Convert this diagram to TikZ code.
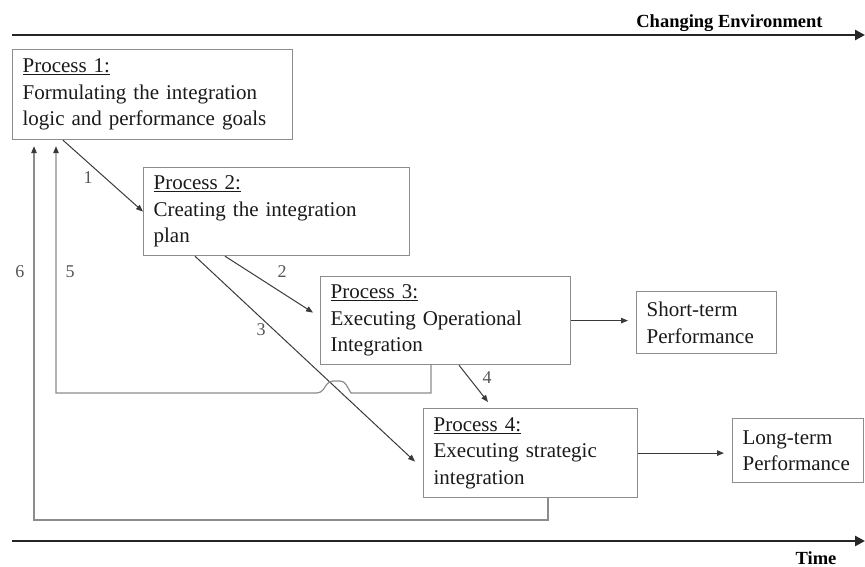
\documentclass[tikz,border=0pt]{standalone}
\usepackage{fontspec}
\setmainfont{Liberation Serif}
\usetikzlibrary{arrows.meta,calc}
\definecolor{boxgray}{HTML}{8C8C8C}
\definecolor{linegray}{HTML}{3A3A3A}
\definecolor{inkgray}{HTML}{1A1A1A}
\definecolor{numgray}{HTML}{555555}

\begin{document}
\begin{tikzpicture}[x=1pt,y=-1pt,
  procbox/.style={draw=boxgray, line width=1.2pt, anchor=north west, align=left,
    inner xsep=10pt, inner ysep=0pt, text=inkgray,
    font=\fontsize{21}{26.5}\selectfont},
  conn/.style={draw=linegray, line width=1pt, -{Triangle[length=7pt,width=5.5pt]}},
  fb/.style={draw=boxgray, line width=1.2pt, -{Triangle[length=7pt,width=5.5pt,color=linegray]}},
  axis/.style={draw=black!85, line width=2.6pt, -{Triangle[length=10pt,width=10pt]}},
  axislabel/.style={anchor=base, text=black, font=\fontsize{18.5}{22}\selectfont\bfseries},
  numlbl/.style={text=numgray, inner sep=0pt, font=\fontsize{18}{21}\selectfont},
]
\useasboundingbox (0,0) rectangle (865,567);

% time axes
\coordinate (env0) at (12,35);
\coordinate (env1) at (865,35);
\coordinate (time0) at (12,541);
\coordinate (time1) at (865,541);
\draw[axis] (env0) -- (env1);
\draw[axis] (time0) -- (time1);
\node[axislabel] (envlbl) at (729.5,28) {Changing Environment};
\node[axislabel] (timelbl) at (816,564) {Time};

% process boxes
\node[procbox, text width=260pt, minimum height=90pt] (p1) at (12,49)
  {\underline{Process 1:}\\Formulating the integration\\logic and performance goals};
\node[procbox, text width=246pt, minimum height=88pt] (p2) at (143,167)
  {\underline{Process 2:}\\Creating the integration\\plan};
\node[procbox, text width=230pt, minimum height=88pt] (p3) at (320,276)
  {\underline{Process 3:}\\Executing Operational\\Integration};
\node[procbox, text width=194pt, minimum height=89pt] (p4) at (423,408)
  {\underline{Process 4:}\\Executing strategic\\integration};

% outcome boxes
\node[procbox, text width=120pt, minimum height=62pt] (st) at (636,291)
  {Short-term\\Performance};
\node[procbox, text width=111pt, minimum height=64pt] (lt) at (732,418)
  {Long-term\\Performance};

% forward connectors
\draw[conn] ([xshift=51pt]p1.south west) -- (p2.west);
\draw[conn] ([xshift=82pt]p2.south west) -- ([shift={(-7pt,8pt)}]p3.west);
\draw[conn] ([xshift=52pt]p2.south west) -- ([shift={(-8pt,-8.5pt)}]p4.west);
\draw[conn] ([xshift=139pt]p3.south west) -- ([shift={(65pt,6pt)}]p4.north west);
\draw[conn, shorten >=8pt] (p3.east) -- (p3.east -| st.west);
\draw[conn, shorten >=8pt] (p4.east) -- (p4.east -| lt.west);

% feedback loops
\coordinate (a5) at ([shift={(44pt,-6pt)}]p1.south west);
\coordinate (a6) at ([shift={(22pt,-6pt)}]p1.south west);
\draw[fb] ([xshift=111pt]p3.south west) -- (431,393) -- (351,393)
  [rounded corners=4pt] -- (344,381) -- (329,381) -- (321,393) [sharp corners]
  -- (a5 |- 0,393) -- (a5);
\draw[fb] ([xshift=125pt]p4.south west) -- (548,520) -- (a6 |- 0,520) -- (a6);

% connector numbers
\node[numlbl] (n1) at (88,178) {1};
\node[numlbl] (n2) at (282,272) {2};
\node[numlbl] (n3) at (261,330) {3};
\node[numlbl] (n4) at (487,378) {4};
\node[numlbl] (n5) at (70,272) {5};
\node[numlbl] (n6) at (20,272) {6};
\end{tikzpicture}
\end{document}
